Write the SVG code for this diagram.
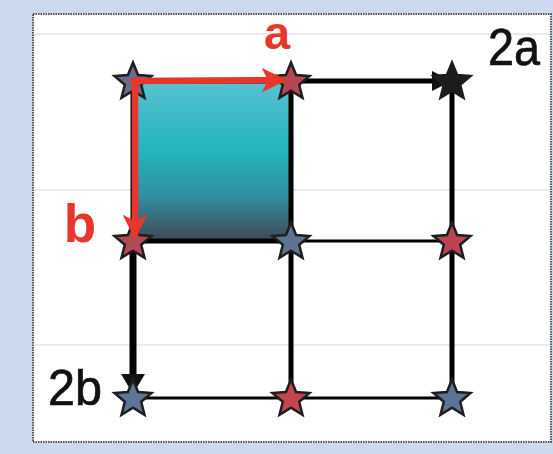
<svg xmlns="http://www.w3.org/2000/svg" xmlns:xlink="http://www.w3.org/1999/xlink" width="553" height="454" viewBox="0 0 553 454">
<style>
.grid{stroke:#000;fill:none;stroke-linecap:butt}
.star{stroke:#1e1e1e;stroke-width:2.5;stroke-linejoin:miter}
.red{fill:#e8362a;font-family:"Liberation Sans",Arial,sans-serif;font-weight:bold}
.blk{fill:#111;stroke:#111;stroke-width:0.7;font-family:"Liberation Sans",Arial,sans-serif}
.guide{stroke:#c8d5ee;stroke-width:1}
</style>
<defs>
<linearGradient id="sq" x1="0" y1="0" x2="0" y2="1">
<stop offset="0" stop-color="#58c2d2"/>
<stop offset="0.45" stop-color="#22b4bc"/>
<stop offset="0.72" stop-color="#318f9f"/>
<stop offset="1" stop-color="#404858"/>
</linearGradient>
<path id="st" d="M0,-19.5 L5.1,-7 L18.5,-6 L8.2,2.7 L11.5,15.8 L0,8.6 L-11.5,15.8 L-8.2,2.7 L-18.5,-6 L-5.1,-7 Z"/>
<marker id="ah" viewBox="0 0 10 10" refX="9" refY="5" markerWidth="3.8" markerHeight="3.8" orient="auto" markerUnits="strokeWidth">
<path d="M0,0 L10,5 L0,10 L2.5,5 Z" fill="#e8362a"/>
</marker>
</defs>
<rect x="0" y="0" width="553" height="454" fill="#cdd9ef"/>
<rect x="33" y="14" width="518" height="428" fill="#fff" stroke="#555" stroke-width="2" stroke-dasharray="1.5 1"/>
<g id="guides">
<line class="guide" x1="34" y1="34" x2="550" y2="34"/>
<line class="guide" x1="34" y1="190" x2="550" y2="190"/>
<line class="guide" x1="34" y1="345" x2="550" y2="345"/>
</g>
<rect id="cell" x="133" y="81" width="158" height="160" fill="url(#sq)"/>
<g id="connectors">
<line class="grid" x1="133" y1="81" x2="291" y2="81" stroke-width="5"/>
<line class="grid" x1="291" y1="81" x2="440" y2="81" stroke-width="5"/>
<path d="M432,71 L452,81 L432,91 Z" fill="#111"/>
<line class="grid" x1="133" y1="241" x2="291" y2="241" stroke-width="5"/>
<line class="grid" x1="291" y1="241" x2="452" y2="241" stroke-width="3"/>
<line class="grid" x1="133" y1="398" x2="452" y2="398" stroke-width="3"/>
<line class="grid" x1="133" y1="81" x2="133" y2="241" stroke-width="5"/>
<line class="grid" x1="133" y1="241" x2="133" y2="378" stroke-width="7"/>
<path d="M121,374 L133,394 L145,374 Z" fill="#111"/>
<line class="grid" x1="291" y1="81" x2="291" y2="398" stroke-width="5"/>
<line class="grid" x1="452" y1="81" x2="452" y2="398" stroke-width="5"/>
</g>
<g id="n11"><use href="#st" x="133" y="82" class="star" fill="#6c6a88"/></g>
<g id="n12"><use href="#st" x="291" y="82" class="star" fill="#b44656"/></g>
<g id="n13"><use href="#st" x="452" y="82" class="star" fill="#1c1c1c"/></g>
<g id="n21"><use href="#st" x="133" y="242" class="star" fill="#b04a55"/></g>
<g id="n22"><use href="#st" x="291" y="242" class="star" fill="#5d7391"/></g>
<g id="n23"><use href="#st" x="452" y="242" class="star" fill="#b84452"/></g>
<g id="n31"><use href="#st" x="133" y="399" class="star" fill="#5c7796"/></g>
<g id="n32"><use href="#st" x="291" y="399" class="star" fill="#c4444f"/></g>
<g id="n33"><use href="#st" x="452" y="399" class="star" fill="#5c7494"/></g>
<g id="arrows">
<line x1="131" y1="81" x2="284" y2="80" stroke="#e8362a" stroke-width="6.5" marker-end="url(#ah)"/>
<line x1="135" y1="80" x2="135" y2="237" stroke="#e8362a" stroke-width="6.5" marker-end="url(#ah)"/>
</g>
<text class="red" x="277" y="49" font-size="47" text-anchor="middle">a</text>
<text class="red" x="80" y="242" font-size="53" text-anchor="middle">b</text>
<text class="blk" x="488" y="65" font-size="52" textLength="52" lengthAdjust="spacingAndGlyphs">2a</text>
<text class="blk" x="48" y="405" font-size="50" textLength="54" lengthAdjust="spacingAndGlyphs">2b</text>
</svg>
